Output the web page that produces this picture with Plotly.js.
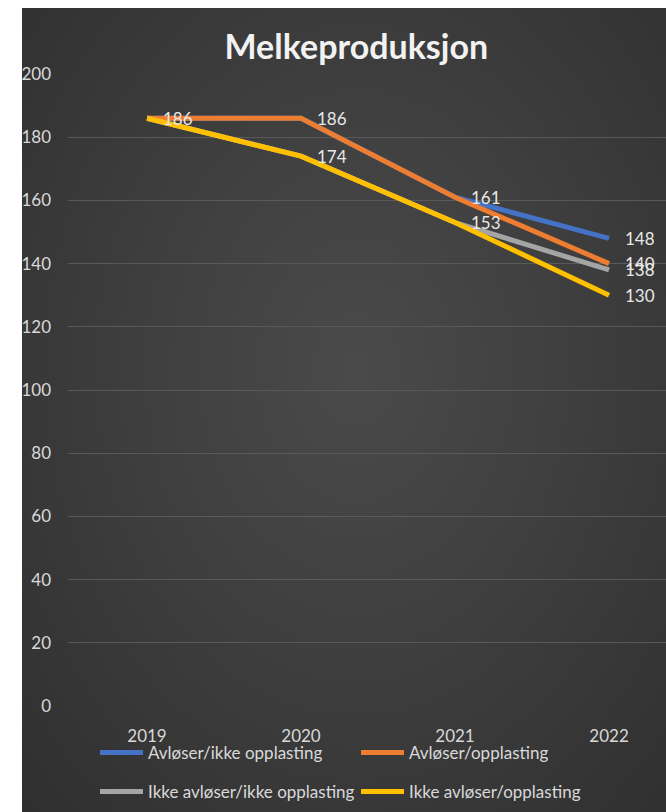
<!DOCTYPE html>
<html>
<head>
<meta charset="utf-8">
<script src="https://cdn.plot.ly/plotly-3.0.1.min.js"></script>
<style>
  html, body { margin: 0; padding: 0; background: #ffffff; }
  #bg { position: absolute; left: 22px; top: 8px; width: 644px; height: 804px;
        background: radial-gradient(ellipse at 52% 45%, #4a4a4a 0%, #404040 40%, #2f2f2f 100%); }
  #chart { position: absolute; left: 0; top: 0; width: 666px; height: 812px; }
</style>
</head>
<body>
<div id="bg"></div>
<div id="chart"></div>
<script>
const years = ['2019', '2020', '2021', '2022'];
const seriesNames = ['Avløser/ikke opplasting', 'Avløser/opplasting', 'Ikke avløser/ikke opplasting', 'Ikke avløser/opplasting'];
const avloserIkkeOpplasting = [186, 186, 161, 148];
const avloserOpplasting = [186, 186, 161, 140];
const ikkeAvloserIkkeOpplasting = [186, 174, 153, 138];
const ikkeAvloserOpplasting = [186, 174, 153, 130];
const seriesColors = ['#4472C4', '#ED7D31', '#A5A5A5', '#FFC000'];
const yTicks = [0, 20, 40, 60, 80, 100, 120, 140, 160, 180, 200];

const allValues = [avloserIkkeOpplasting, avloserOpplasting, ikkeAvloserIkkeOpplasting, ikkeAvloserOpplasting];
const legendIds = ['legend', 'legend', 'legend2', 'legend2'];

const textColor = '#d9d9d9';
const fontFam = 'Lato, "Open Sans", sans-serif';

const traces = allValues.map((vals, k) => ({
  type: 'scatter',
  mode: 'lines',
  x: years,
  y: vals,
  name: seriesNames[k],
  legend: legendIds[k],
  line: { color: seriesColors[k], width: 5 },
  hoverinfo: 'skip'
}));

// data labels: overlapping identical labels collapse into one
const annotations = [];
const seen = new Set();
allValues.forEach((vals) => {
  vals.forEach((v, i) => {
    const key = i + '|' + v;
    if (seen.has(key)) return;
    seen.add(key);
    annotations.push({
      x: i, y: v, xref: 'x', yref: 'y',
      text: String(v), showarrow: false,
      xanchor: 'left', yanchor: 'middle', xshift: 14,
      font: { family: fontFam, size: 17, color: '#e8e8e8' }
    });
  });
});

const legendCommon = {
  orientation: 'h', xref: 'container', yref: 'container',
  xanchor: 'left', yanchor: 'middle',
  entrywidth: 203, entrywidthmode: 'pixels', itemwidth: 43,
  bgcolor: 'rgba(0,0,0,0)', borderwidth: 0,
  font: { family: fontFam, size: 17, color: textColor },
  traceorder: 'normal'
};

const layout = {
  width: 666, height: 812,
  paper_bgcolor: 'rgba(0,0,0,0)',
  plot_bgcolor: 'rgba(0,0,0,0)',
  margin: { l: 68, r: 0, t: 74, b: 106 },
  title: {
    text: '<b>Melkeproduksjon</b>',
    x: 0.535, xref: 'container', xanchor: 'center',
    y: 1 - 47 / 812, yref: 'container', yanchor: 'middle',
    font: { family: fontFam, size: 34, color: '#f2f2f2' }
  },
  xaxis: {
    type: 'category',
    range: [-0.513, 3.37],
    showgrid: false, zeroline: false, showline: false,
    ticks: '', ticklabelstandoff: 18,
    tickfont: { family: fontFam, size: 17, color: textColor },
    fixedrange: true
  },
  yaxis: {
    range: [0, 200],
    tickvals: yTicks,
    showgrid: true, gridcolor: '#595959', gridwidth: 1,
    zeroline: false, showline: false,
    ticks: '', ticklabelstandoff: 16,
    tickfont: { family: fontFam, size: 17, color: textColor },
    fixedrange: true
  },
  legend: Object.assign({}, legendCommon, { x: 95 / 666, y: 1 - 753 / 812 }),
  legend2: Object.assign({}, legendCommon, { x: 95 / 666, y: 1 - 792 / 812 }),
  annotations: annotations,
  showlegend: true
};

Plotly.newPlot('chart', traces, layout, { displayModeBar: false, staticPlot: true });
</script>
</body>
</html>
